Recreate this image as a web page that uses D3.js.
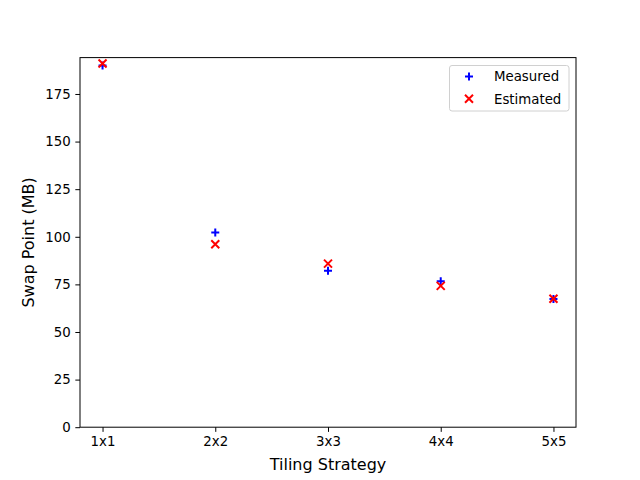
<!DOCTYPE html>
<html>
<head>
<meta charset="utf-8">
<script src="https://cdn.jsdelivr.net/npm/d3@7"></script>
<style>
html,body{margin:0;padding:0;background:#fff;}
svg{display:block;font-family:"DejaVu Sans",sans-serif;}
</style>
</head>
<body>
<svg id="chart" width="640" height="480"></svg>
<script>
const categories = ["1x1","2x2","3x3","4x4","5x5"];
const measured = [190, 102.3, 82.2, 76.6, 67.3];
const estimated = [191, 96.1, 85.9, 74.2, 67.5];
const yTicks = [0,25,50,75,100,125,150,175];
const seriesNames = ["Measured","Estimated"];

(function(){
const W=640,H=480;
const pL=80,pR=576,pT=57.6,pB=427.2;
const svg=d3.select("#chart");
svg.append("rect").attr("width",W).attr("height",H).attr("fill","#fff");

const x=d3.scaleLinear().domain([-0.2,categories.length-1+0.2]).range([pL,pR]);
const y=d3.scaleLinear().domain([0,194.1]).range([pB,pT]);

const xAxis=d3.axisBottom(x).tickValues(categories.map((d,i)=>i)).tickFormat(i=>categories[i]).tickSize(4.67).tickPadding(4.67).tickSizeOuter(0);
const yAxis=d3.axisLeft(y).tickValues(yTicks).tickFormat(d3.format("d")).tickSize(4.67).tickPadding(4.67).tickSizeOuter(0);

const gx=svg.append("g").attr("transform",`translate(0,${pB})`).call(xAxis);
const gy=svg.append("g").attr("transform",`translate(${pL},0)`).call(yAxis);
[gx,gy].forEach(g=>{
  g.select(".domain").remove();
  g.selectAll(".tick line").attr("stroke","#000").attr("stroke-width",1);
  g.selectAll(".tick text").attr("fill","#000").style("font-size","13.33px").style("font-family","DejaVu Sans");
});

svg.append("rect").attr("x",pL).attr("y",pT).attr("width",pR-pL).attr("height",pB-pT)
  .attr("fill","none").attr("stroke","#000").attr("stroke-width",1);

svg.append("text").attr("x",(pL+pR)/2).attr("y",470).attr("text-anchor","middle")
  .style("font-size","16px").text("Tiling Strategy");
svg.append("text").attr("transform",`translate(34,${(pT+pB)/2}) rotate(-90)`).attr("text-anchor","middle")
  .style("font-size","16px").text("Swap Point (MB)");

function plus(g,cx,cy,color){
  g.append("path").attr("d",`M${cx-4},${cy}H${cx+4}M${cx},${cy-4}V${cy+4}`)
   .attr("stroke",color).attr("stroke-width",2).attr("fill","none");
}
function cross(g,cx,cy,color){
  const r=4;
  g.append("path").attr("d",`M${cx-r},${cy-r}L${cx+r},${cy+r}M${cx-r},${cy+r}L${cx+r},${cy-r}`)
   .attr("stroke",color).attr("stroke-width",2).attr("fill","none");
}

const pts=svg.append("g");
measured.forEach((v,i)=>plus(pts,x(i),y(v),"#0000ff"));
estimated.forEach((v,i)=>cross(pts,x(i),y(v),"#ff0000"));

const lg=svg.append("g");
lg.append("rect").attr("x",449.5).attr("y",65.5).attr("width",119.5).attr("height",45.5).attr("rx",2.5)
  .attr("fill","#fff").attr("fill-opacity",0.8).attr("stroke","#d0d0d0").attr("stroke-width",1);
plus(lg,469,76.5,"#0000ff");
cross(lg,469,98.7,"#ff0000");
lg.append("text").attr("x",494).attr("y",81.3).style("font-size","13.33px").text(seriesNames[0]);
lg.append("text").attr("x",494).attr("y",103.5).style("font-size","13.33px").text(seriesNames[1]);
})();
</script>
</body>
</html>
